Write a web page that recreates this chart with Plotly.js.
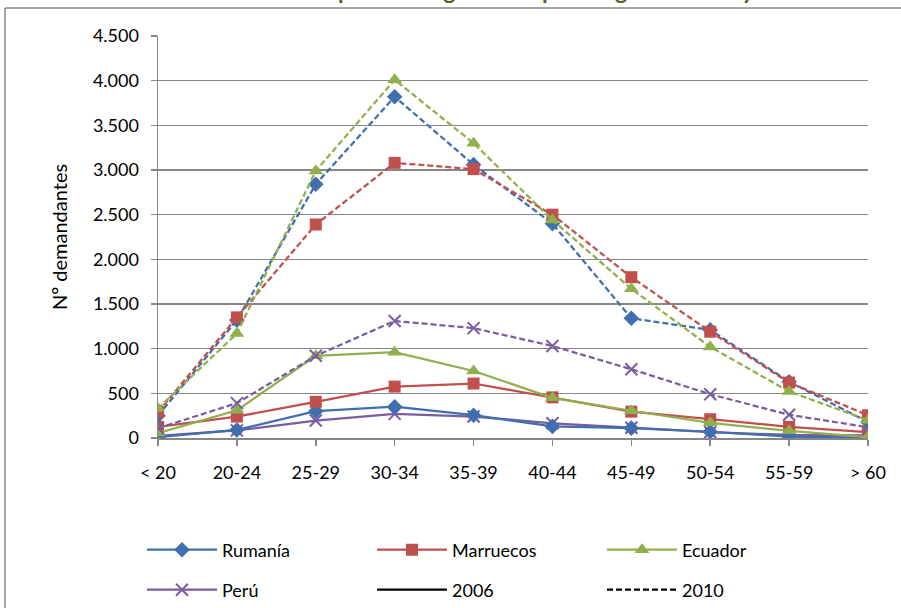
<!DOCTYPE html>
<html>
<head>
<meta charset="utf-8">
<script src="https://cdn.plot.ly/plotly-3.0.1.min.js"></script>
<style>html,body{margin:0;padding:0;background:#fff;}#chart{width:901px;height:608px;}</style>
</head>
<body>
<div id="chart"></div>
<script>
const categories = ["< 20","20-24","25-29","30-34","35-39","40-44","45-49","50-54","55-59","> 60"];
const rumania2006 = [10, 90, 300, 350, 255, 130, 110, 70, 15, 5];
const rumania2010 = [250, 1320, 2840, 3820, 3060, 2400, 1340, 1210, 630, 180];
const marruecos2006 = [125, 240, 405, 575, 610, 455, 295, 210, 125, 65];
const marruecos2010 = [290, 1350, 2390, 3080, 3010, 2500, 1800, 1190, 620, 255];
const ecuador2006 = [55, 310, 920, 960, 750, 450, 305, 170, 80, 10];
const ecuador2010 = [330, 1170, 2990, 4010, 3300, 2440, 1670, 1020, 520, 200];
const peru2006 = [25, 85, 195, 270, 240, 165, 115, 65, 35, 30];
const peru2010 = [110, 390, 920, 1310, 1230, 1030, 770, 490, 260, 120];
const yTicks = [0, 500, 1000, 1500, 2000, 2500, 3000, 3500, 4000, 4500];

const FONT = "Lato, 'Open Sans', sans-serif";
const blue = "#3F6FAE", red = "#C0504D", green = "#8FB04A", purple = "#7A5CA0";
const dash = "6px,3px";

function tr(name, y, color, symbol, size, dashed, showlegend, legend) {
  const isX = symbol.indexOf("x") === 0;
  return {
    type: "scatter", mode: "lines+markers", name: name, x: categories, y: y,
    line: {color: color, width: 2.25, dash: dashed ? dash : "solid"},
    marker: isX ? {symbol: symbol, size: size, color: color, line: {color: color, width: 2}}
                : {symbol: symbol, size: size, color: color, line: {width: 0}},
    showlegend: showlegend, legend: legend, hoverinfo: "skip"
  };
}

const data = [
  tr("Perú", peru2006, purple, "x-thin-open", 12, false, true, "legend4"),
  tr("Rumanía", rumania2006, blue, "diamond", 12, false, true, "legend"),
  tr("Marruecos", marruecos2006, red, "square", 12, false, true, "legend2"),
  tr("Ecuador", ecuador2006, green, "triangle-up", 13, false, true, "legend3"),
  tr("Perú 2010", peru2010, purple, "x-thin-open", 12, true, false, "legend4"),
  tr("Rumanía 2010", rumania2010, blue, "diamond", 12, true, false, "legend"),
  tr("Marruecos 2010", marruecos2010, red, "square", 12, true, false, "legend2"),
  tr("Ecuador 2010", ecuador2010, green, "triangle-up", 13, true, false, "legend3"),
  {type: "scatter", mode: "lines", name: "2006", x: [null], y: [null], line: {color: "#000", width: 2.25}, legend: "legend5", showlegend: true},
  {type: "scatter", mode: "lines", name: "2010", x: [null], y: [null], line: {color: "#000", width: 2.25, dash: dash}, legend: "legend6", showlegend: true}
];

const L = 158, T = 36, W = 710, H = 402;
const px = v => (v - L) / W;
const py = v => (T + H - v) / H;

function leg(xp, yp) {
  return {
    orientation: "v", x: px(xp), xanchor: "left", y: py(yp), yanchor: "middle",
    itemwidth: 70, font: {family: FONT, size: 18, color: "#000"},
    bgcolor: "rgba(0,0,0,0)", borderwidth: 0
  };
}

const layout = {
  width: 901, height: 608,
  margin: {l: L, r: 901 - L - W, t: T, b: 608 - T - H, autoexpand: false},
  paper_bgcolor: "#fff", plot_bgcolor: "#fff",
  font: {family: FONT, size: 18, color: "#000"},
  separators: ",.",
  showlegend: true,
  xaxis: {
    type: "category", range: [0, 9], showgrid: false, zeroline: false,
    showline: true, linecolor: "#878787", linewidth: 1.5,
    ticks: "outside", ticklen: 6, tickcolor: "#878787", tickwidth: 1.5,
    ticklabelstandoff: 12, tickfont: {family: FONT, size: 18, color: "#000"}
  },
  yaxis: {
    range: [0, 4500], tickvals: yTicks, tickformat: ",d",
    showgrid: true, gridcolor: "#878787", gridwidth: 1.5, zeroline: false,
    showline: true, linecolor: "#878787", linewidth: 1.5,
    ticks: "outside", ticklen: 6, tickcolor: "#878787", tickwidth: 1.5,
    ticklabelstandoff: 8, tickfont: {family: FONT, size: 18, color: "#000"},
    title: {text: "Nº demandantes", font: {family: FONT, size: 20, color: "#000"}, standoff: 20}
  },
  legend: leg(142, 550),
  legend2: leg(372, 550),
  legend3: leg(602, 550),
  legend4: leg(142, 590),
  legend5: leg(372, 590),
  legend6: leg(602, 590),
  shapes: [
    {type: "line", xref: "paper", yref: "paper", x0: px(5), x1: px(5), y0: py(8), y1: py(640), line: {color: "#878787", width: 1.5}},
    {type: "line", xref: "paper", yref: "paper", x0: px(5), x1: px(950), y0: py(8), y1: py(8), line: {color: "#878787", width: 1.5}}
  ],
  annotations: [
    {xref: "paper", yref: "paper", x: px(-6), y: py(6), xanchor: "left", yanchor: "bottom", showarrow: false,
     text: "<b>Gráfico 3. Evolución de los desempleados registrados por rangos de edad y nacionalidad</b>",
     font: {family: FONT, size: 23, color: "#4F6228"}}
  ]
};

Plotly.newPlot("chart", data, layout, {staticPlot: true, displayModeBar: false});
</script>
</body>
</html>
